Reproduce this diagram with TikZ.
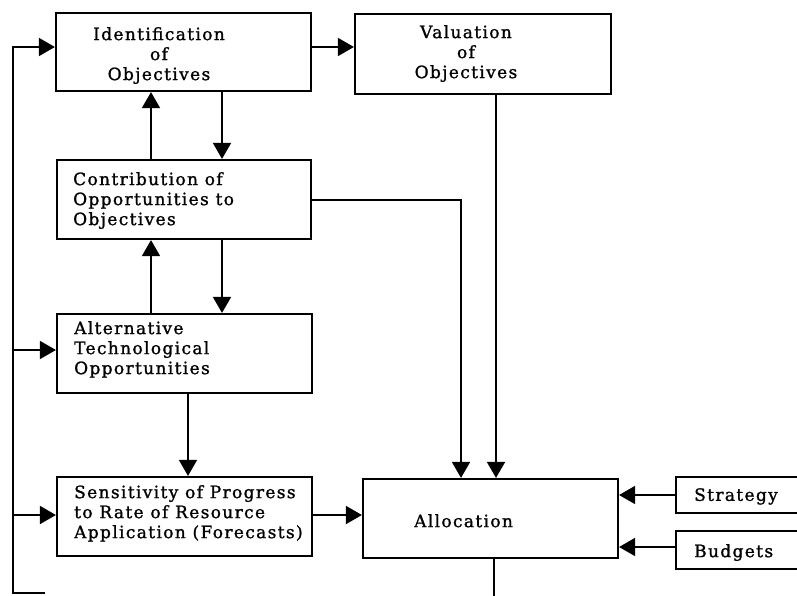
\documentclass[tikz,border=0pt]{standalone}
\usepackage{fontspec}
\setmainfont{DejaVu Serif}[LetterSpace=8,FakeBold=1.2]
\usetikzlibrary{arrows.meta}
\begin{document}
\begin{tikzpicture}[x=1pt,y=-1pt,
  box/.style={draw,line width=2.2pt,inner sep=0pt,minimum width=#1},
  lbl/.style={inner sep=0pt,font=\fontsize{17}{20}\selectfont},
  ln/.style={line width=1.8pt},
  arr/.style={line width=1.8pt,-{Triangle[length=16pt,width=18pt]}}]
\clip (0,0) rectangle (797,595);
% boxes
\node[box=255pt,minimum height=78pt] (ident) at (183.5,52) {};
\node[box=256pt,minimum height=80pt] (val) at (483,54) {};
\node[box=254pt,minimum height=79pt] (contrib) at (184,199.5) {};
\node[box=255pt,minimum height=79pt] (alt) at (184.5,353.5) {};
\node[box=255pt,minimum height=79pt] (sens) at (184.5,516.5) {};
\node[box=255pt,minimum height=79pt] (alloc) at (490.5,518.5) {};
\node[box=144pt,minimum height=36pt] (strat) at (748,495) {};
\node[box=144pt,minimum height=38pt] (budg) at (748,550) {};
% texts
\node[lbl,anchor=north,align=center] (tident) at (159,27) {Identification\\of\\Objectives};
\node[lbl,anchor=north,align=center] (tval) at (466,25) {Valuation\\of\\Objectives};
\node[lbl,anchor=north west,align=left] (tcontrib) at (73,172) {Contribution of\\Opportunities to\\Objectives};
\node[lbl,anchor=north west,align=left] (talt) at (74,321) {Alternative\\Technological\\Opportunities};
\node[lbl,anchor=north west,align=left] (tsens) at (74,485) {Sensitivity of Progress\\to Rate of Resource\\Application (Forecasts)};
\node[lbl,anchor=north west] (talloc) at (414,514) {Allocation};
\node[lbl,anchor=north west] (tstrat) at (694,488) {Strategy};
\node[lbl,anchor=north west] (tbudg) at (694,544) {Budgets};
% feedback loop
\coordinate (fbend) at (45,593);
\coordinate (fbcorner) at (13,593);
\coordinate (fbtop) at (13,47);
\coordinate (fbalt) at (13,350);
\coordinate (fbsens) at (13,515);
\coordinate (allocout) at (494,600);
\draw[arr] (fbend) -- (fbcorner) -- (fbtop) -- (fbtop -| ident.west);
\draw[arr] (fbalt) -- (fbalt -| alt.west);
\draw[arr] (fbsens) -- (fbsens -| sens.west);
\draw[ln] (alloc.south -| allocout) -- (allocout);
% main connectors
\draw[arr] (ident.east |- fbtop) -- (val.west |- fbtop);
\draw[arr] (ident.south -| 222,0) -- (contrib.north -| 222,0);
\draw[arr] (contrib.north -| 151,0) -- (ident.south -| 151,0);
\draw[arr] (contrib.south -| 222,0) -- (alt.north -| 222,0);
\draw[arr] (alt.north -| 151,0) -- (contrib.south -| 151,0);
\draw[arr] (alt.south -| 188,0) -- (sens.north -| 188,0);
\draw[arr] (sens.east |- fbsens) -- (alloc.west |- fbsens);
\draw[arr] (contrib.east |- 0,200) -| (alloc.north -| 461,0);
\draw[arr] (val.south -| 496,0) -- (alloc.north -| 496,0);
\draw[arr] (strat.west) -- (alloc.east |- strat.west);
\draw[arr] (budg.west |- 0,547) -- (alloc.east |- 0,547);
\end{tikzpicture}
\end{document}
